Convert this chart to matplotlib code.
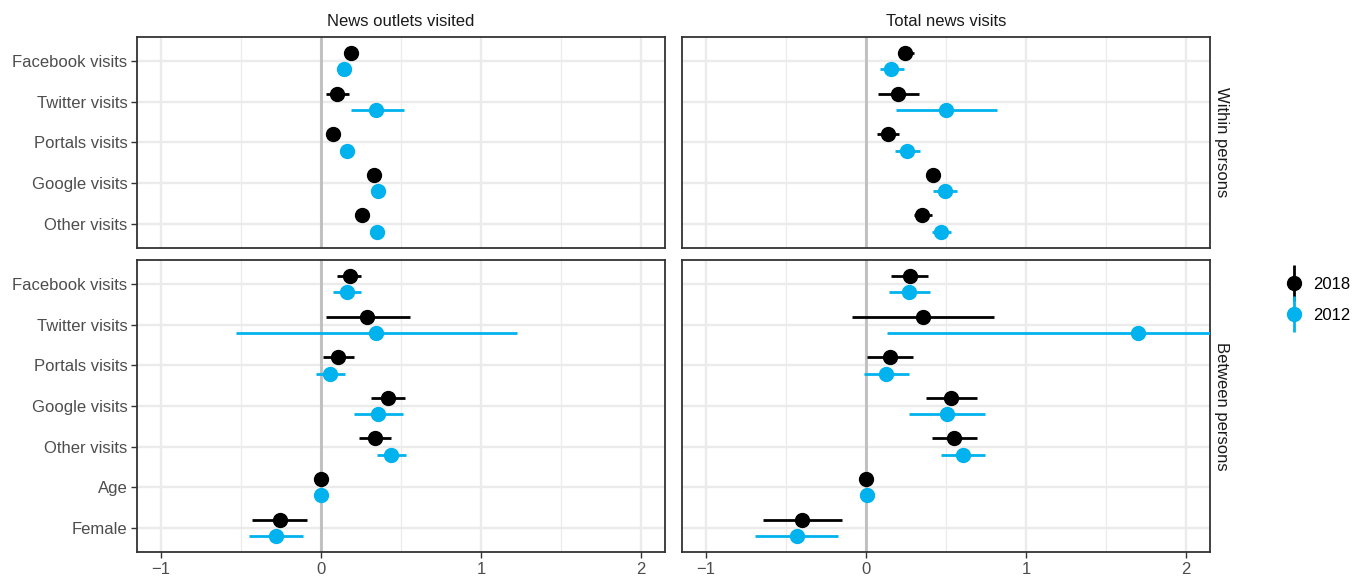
import numpy as np
import matplotlib.pyplot as plt
from matplotlib.lines import Line2D

plt.rcParams['font.family'] = ['Liberation Sans', 'DejaVu Sans']

within_labels = ["Facebook visits", "Twitter visits", "Portals visits",
                 "Google visits", "Other visits"]
between_labels = within_labels + ["Age", "Female"]
col_titles = ["News outlets visited", "Total news visits"]
row_titles = ["Within persons", "Between persons"]
years = ["2018", "2012"]
year_colors = ["#000000", "#00B2EE"]

# point estimates with lower / upper interval, top-to-bottom order of labels
# News outlets visited, within persons
ow_2018 = [0.186, 0.100, 0.072, 0.332, 0.257]
ow_2018_lo = [0.170, 0.033, 0.058, 0.318, 0.242]
ow_2018_hi = [0.202, 0.172, 0.086, 0.346, 0.272]
ow_2012 = [0.146, 0.346, 0.165, 0.358, 0.350]
ow_2012_lo = [0.130, 0.190, 0.150, 0.344, 0.335]
ow_2012_hi = [0.162, 0.516, 0.180, 0.372, 0.365]

# Total news visits, within persons
tw_2018 = [0.247, 0.200, 0.139, 0.417, 0.353]
tw_2018_lo = [0.200, 0.075, 0.069, 0.383, 0.303]
tw_2018_hi = [0.303, 0.331, 0.206, 0.461, 0.411]
tw_2012 = [0.158, 0.500, 0.258, 0.492, 0.469]
tw_2012_lo = [0.089, 0.189, 0.180, 0.417, 0.411]
tw_2012_hi = [0.236, 0.817, 0.336, 0.567, 0.531]

# News outlets visited, between persons
ob_2018 = [0.178, 0.289, 0.105, 0.416, 0.335, 0.000, -0.259]
ob_2018_lo = [0.100, 0.032, 0.014, 0.311, 0.240, -0.005, -0.432]
ob_2018_hi = [0.250, 0.554, 0.205, 0.524, 0.435, 0.005, -0.089]
ob_2012 = [0.162, 0.346, 0.059, 0.357, 0.440, 0.000, -0.281]
ob_2012_lo = [0.078, -0.532, -0.032, 0.205, 0.349, -0.005, -0.451]
ob_2012_hi = [0.249, 1.224, 0.151, 0.514, 0.532, 0.005, -0.111]

# Total news visits, between persons
tb_2018 = [0.275, 0.358, 0.150, 0.533, 0.550, 0.003, -0.397]
tb_2018_lo = [0.156, -0.086, 0.008, 0.375, 0.411, -0.002, -0.644]
tb_2018_hi = [0.389, 0.803, 0.294, 0.697, 0.692, 0.008, -0.147]
tb_2012 = [0.267, 1.697, 0.125, 0.506, 0.608, 0.005, -0.433]
tb_2012_lo = [0.144, 0.133, -0.011, 0.269, 0.467, 0.000, -0.694]
tb_2012_hi = [0.400, 3.260, 0.269, 0.747, 0.747, 0.010, -0.172]

panels = [
    [(within_labels, [(ow_2018, ow_2018_lo, ow_2018_hi), (ow_2012, ow_2012_lo, ow_2012_hi)]),
     (within_labels, [(tw_2018, tw_2018_lo, tw_2018_hi), (tw_2012, tw_2012_lo, tw_2012_hi)])],
    [(between_labels, [(ob_2018, ob_2018_lo, ob_2018_hi), (ob_2012, ob_2012_lo, ob_2012_hi)]),
     (between_labels, [(tb_2018, tb_2018_lo, tb_2018_hi), (tb_2012, tb_2012_lo, tb_2012_hi)])],
]

W, H = 1361, 582
fig, axes = plt.subplots(2, 2, figsize=(W / 100, H / 100), dpi=100,
                         gridspec_kw={'height_ratios': [5.2, 7.2]})
fig.subplots_adjust(left=137 / W, right=1210 / W, top=1 - 37 / H,
                    bottom=1 - 552 / H, wspace=0.032, hspace=0.048)

dodge = [-0.2, 0.2]
for r in range(2):
    for c in range(2):
        ax = axes[r][c]
        labels, series = panels[r][c]
        n = len(labels)
        pos = np.arange(n)
        for k, (est, lo, hi) in enumerate(series):
            est = np.array(est)
            err = [est - np.array(lo), np.array(hi) - est]
            ax.errorbar(est, pos + dodge[k], xerr=err, fmt='o', color=year_colors[k],
                        ms=10, elinewidth=2.0, capsize=0, zorder=3)
        ax.axvline(0, color='#BEBEBE', lw=2.0, zorder=2)
        ax.set_xlim(-1.15, 2.15)
        ax.set_ylim(n - 0.4, -0.6)
        ax.set_xticks([-1, 0, 1, 2])
        ax.set_xticks([-0.5, 0.5, 1.5], minor=True)
        ax.set_yticks(pos)
        ax.grid(True, which='major', color='#EBEBEB', lw=1.7, zorder=0)
        ax.grid(True, which='minor', axis='x', color='#EBEBEB', lw=0.9, zorder=0)
        ax.set_axisbelow(True)
        ax.tick_params(which='minor', length=0)
        ax.tick_params(which='major', length=4, width=1.0, color='#333333',
                       labelcolor='#4D4D4D', labelsize=12, pad=3)
        for s in ax.spines.values():
            s.set_color('#333333')
            s.set_linewidth(1.3)
        if c == 0:
            ax.set_yticklabels(labels)
        else:
            ax.set_yticklabels([])
            ax.tick_params(axis='y', length=0)
        if r == 0:
            ax.set_xticklabels([])
            ax.tick_params(axis='x', length=0)
            ax.set_title(col_titles[c], fontsize=12, color='#1A1A1A', pad=8)
        if c == 1:
            ax.text(1.022, 0.5, row_titles[r], transform=ax.transAxes, rotation=270,
                    ha='center', va='center', fontsize=12, color='#1A1A1A')

# legend: point with vertical range, as in the pointrange key
handles = []
for k in range(2):
    bar = Line2D([], [], marker='|', ms=26, mew=2.0, ls='none', color=year_colors[k])
    dot = Line2D([], [], marker='o', ms=10, ls='none', color=year_colors[k])
    handles.append((bar, dot))
fig.legend(handles, years, loc='upper left', bbox_to_anchor=(1271 / W, 1 - 262 / H),
           frameon=False, fontsize=12, handlelength=1.0, handletextpad=0.6,
           labelspacing=0.95)

fig.savefig('out.png', dpi=100)
